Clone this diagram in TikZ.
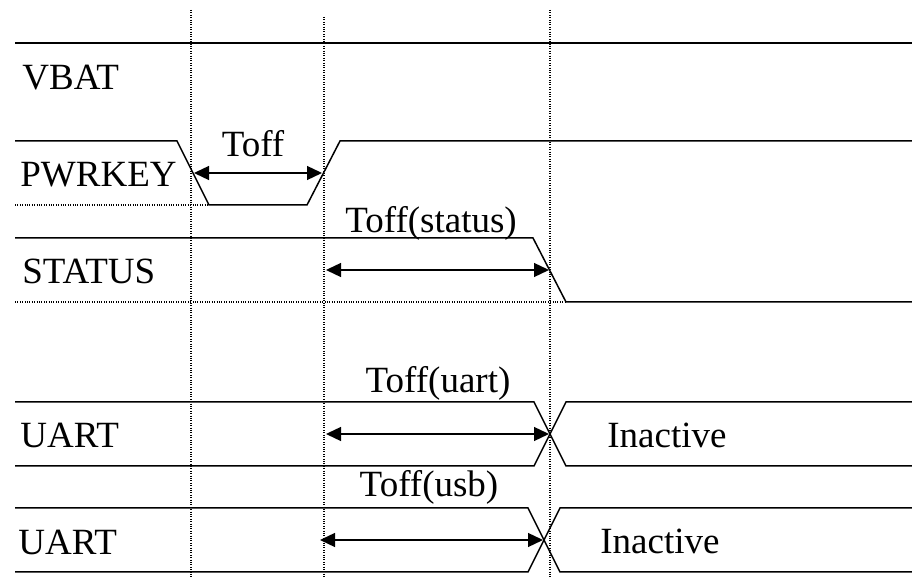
\documentclass[tikz,border=0pt]{standalone}
\usepackage{fontspec}
\setmainfont{Liberation Serif}
\usetikzlibrary{arrows.meta}
\begin{document}
\begin{tikzpicture}[x=0.5pt,y=-0.5pt,
	sig/.style={line width=0.75pt},
	grid/.style={line width=0.55pt,dash pattern=on 0.5pt off 0.7pt},
	dim/.style={line width=0.65pt,{Triangle[length=7.5pt,width=7pt]}-{Triangle[length=7.5pt,width=7pt]}},
	lbl/.style={anchor=base west,inner sep=0pt,font=\fontsize{18.5}{20}\selectfont},
	tim/.style={anchor=base,inner sep=0pt,font=\fontsize{18.5}{20}\selectfont}]
	\useasboundingbox (0,0) rectangle (912,577);
	% time markers
	\draw[grid] (191,10) -- (191,577);
	\draw[grid] (324,17) -- (324,577);
	\draw[grid] (550,10) -- (550,577);
	% VBAT
	\draw[sig] (15,43) -- (912,43);
	\node[lbl] (vbat) at (22,90) {VBAT};
	% PWRKEY
	\draw[sig] (15,141) -- (177,141) -- (209,205) -- (307,205) -- (340,141) -- (912,141);
	\draw[grid] (15,205) -- (209,205);
	\node[lbl] (pwrkey) at (20,187) {PWRKEY};
	\coordinate (toffa) at (194,173);
	\coordinate (toffb) at (322,173);
	\draw[dim] (toffa) -- (toffb);
	\node[tim] (toff) at (253,157) {Toff};
	% STATUS
	\draw[sig] (15,238) -- (533,238) -- (566,302) -- (912,302);
	\draw[grid] (15,302) -- (566,302);
	\node[lbl] (status) at (22,284) {STATUS};
	\coordinate (stsa) at (326,270);
	\coordinate (stsb) at (549,270);
	\draw[dim] (stsa) -- (stsb);
	\node[tim] (toffsts) at (431,233) {Toff(status)};
	% UART
	\draw[sig] (15,402) -- (534,402) -- (566,466) -- (912,466);
	\draw[sig] (15,466) -- (534,466) -- (566,402) -- (912,402);
	\node[lbl] (uart) at (20,448) {UART};
	\node[lbl] (inact) at (607,448) {Inactive};
	\coordinate (uarta) at (326,434);
	\coordinate (uartb) at (549,434);
	\draw[dim] (uarta) -- (uartb);
	\node[tim] (toffuart) at (438,393) {Toff(uart)};
	% USB
	\draw[sig] (15,508) -- (528,508) -- (560,572) -- (912,572);
	\draw[sig] (15,572) -- (528,572) -- (560,508) -- (912,508);
	\node[lbl] (usb) at (18,555) {UART};
	\node[lbl] (inactb) at (600,554) {Inactive};
	\coordinate (usba) at (320,540);
	\coordinate (usbb) at (543,540);
	\draw[dim] (usba) -- (usbb);
	\node[tim] (toffusb) at (429,497) {Toff(usb)};
\end{tikzpicture}
\end{document}
